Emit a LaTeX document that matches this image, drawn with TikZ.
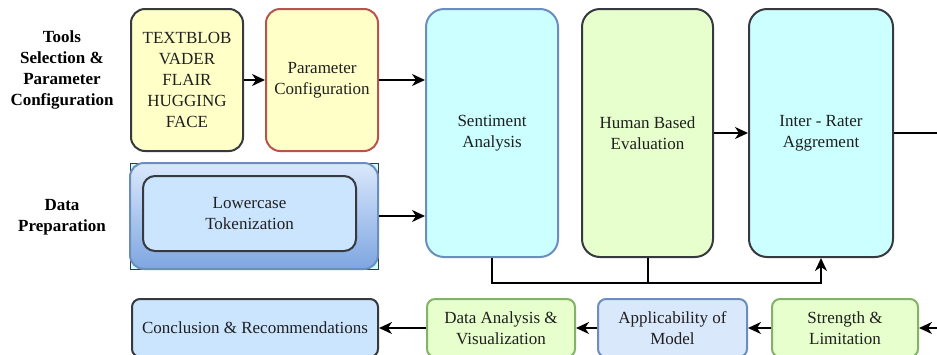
\documentclass[tikz,border=0pt]{standalone}
\usepackage{fontspec}
\setmainfont{Liberation Serif}
\usepackage{tikz}
\usetikzlibrary{arrows.meta}

\definecolor{boxyellow}{HTML}{FFFFC8}
\definecolor{boxred}{HTML}{B85450}
\definecolor{boxdark}{HTML}{36393D}
\definecolor{boxcyan}{HTML}{CCFFFF}
\definecolor{boxblue}{HTML}{6C8EBF}
\definecolor{boxgreen}{HTML}{E6FFCC}
\definecolor{boxgreenline}{HTML}{82B366}
\definecolor{boxsky}{HTML}{CCE5FF}
\definecolor{boxpale}{HTML}{DAE8FC}
\definecolor{boxdeep}{HTML}{7EA6E0}

\tikzset{
	box/.style={rectangle, rounded corners=14pt, draw=boxdark, line width=2pt, align=center, inner sep=0pt, font=\fontsize{17}{21}\selectfont, text=black!88},
	lowbox/.style={box, rounded corners=8pt, minimum height=58pt},
	lab/.style={align=center, font=\fontsize{17}{21}\selectfont\bfseries},
	arr/.style={line width=2pt, -{Stealth[length=13pt,width=12pt,inset=4pt]}},
	wire/.style={line width=2pt}
}

\begin{document}
\begin{tikzpicture}[x=1pt,y=-1pt]
				\useasboundingbox (0,0) rectangle (937,354);
				\clip (0,0) rectangle (937,354);
				
				\node[lab] (toolslab) at (62,70) {Tools\\Selection \&\\Parameter\\Configuration};
				\node[lab] (preplab) at (62,217.5) {Data\\Preparation};
				
				\node[box, fill=boxyellow, minimum width=112pt, minimum height=142pt] (tools) at (187,80) {TEXTBLOB\\VADER\\FLAIR\\HUGGING\\FACE};
				\node[box, fill=boxyellow, draw=boxred, minimum width=112pt, minimum height=142pt] (param) at (322,80) {Parameter\\Configuration};
				
				% data preparation block
				\node[rectangle, draw=boxdark, line width=1pt, fill=boxcyan, minimum width=248pt, minimum height=106pt] (prepback) at (254,216) {};
				\node[box, draw=boxblue, top color=boxpale, bottom color=boxdeep, minimum width=248pt, minimum height=106pt] (prep) at (254,216) {};
				\node[box, fill=boxsky, rounded corners=12pt, minimum width=213pt, minimum height=75pt] (lower) at (249.5,213.5) {Lowercase\\Tokenization};
				
				\node[box, fill=boxcyan, draw=boxblue, rounded corners=18pt, minimum width=132pt, minimum height=248pt] (sent) at (492,133) {Sentiment\\Analysis};
				\node[box, fill=boxgreen, rounded corners=18pt, minimum width=131pt, minimum height=248pt] (human) at (647.5,133) {Human Based\\Evaluation};
				\node[box, fill=boxcyan, rounded corners=18pt, minimum width=144pt, minimum height=248pt] (inter) at (821,133) {Inter - Rater\\Aggrement};
				
				\node[lowbox, fill=boxsky, minimum width=246pt] (concl) at (255,328) {Conclusion \& Recommendations};
				\node[lowbox, fill=boxgreen, draw=boxgreenline, minimum width=148pt] (dav) at (501,328) {Data Analysis \&\\Visualization};
				\node[lowbox, fill=boxpale, draw=boxblue, minimum width=149pt] (appl) at (672.5,328) {Applicability of\\Model};
				\node[lowbox, fill=boxgreen, draw=boxgreenline, minimum width=146pt] (str) at (845,328) {Strength \&\\Limitation};
				
				\coordinate (outR) at (945,133);
				\coordinate (inR) at (945,328);
				\coordinate (join) at (647.5,282);
				
				\draw[arr] (tools) -- (param);
				\draw[arr] (param.east) -- (param.east -| sent.west);
				\draw[arr] (prep.east) -- (prep.east -| sent.west);
				\draw[arr] (human) -- (inter);
				\draw[wire] (inter) -- (outR);
				\draw[arr] (sent.south) -- ++(0,25) -| (inter.south);
				\draw[wire] (human.south) -- (join);
				
				\draw[arr] (inR) -- (str);
				\draw[arr] (str) -- (appl);
				\draw[arr] (appl) -- (dav);
				\draw[arr] (dav) -- (concl);
			\end{tikzpicture}
\end{document}
